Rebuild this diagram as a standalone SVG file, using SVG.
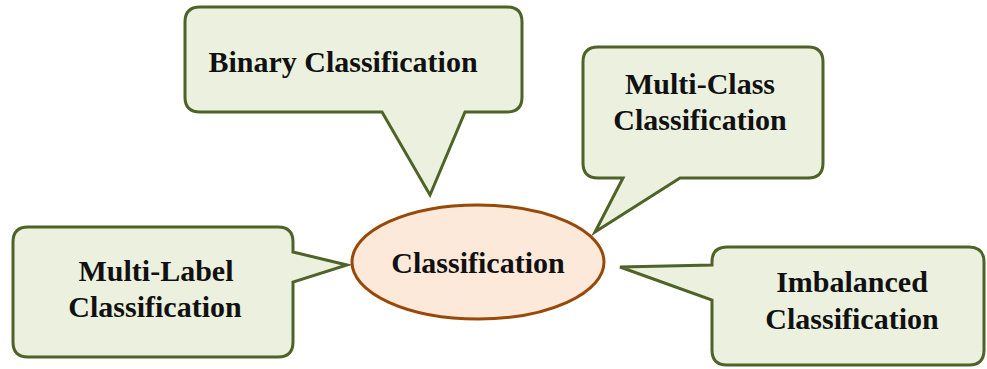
<svg xmlns="http://www.w3.org/2000/svg" width="987" height="369" viewBox="0 0 987 369">
  <style>
    .callout { fill: #EBF1DE; stroke: #4F6228; stroke-width: 3; stroke-linejoin: miter; }
    .center { fill: #FDE9D9; stroke: #984807; stroke-width: 3; }
    text { font-family: 'Liberation Serif', 'Times New Roman', 'DejaVu Serif', serif; font-weight: 700; font-size: 30px; fill: #111111; text-anchor: middle; }
  </style>
  <rect width="987" height="369" fill="#ffffff"/>

  <!-- callout tails act as the links; no separate lines are drawn -->
  <g id="connectors"></g>

  <g id="binary">
    <path class="callout" d="M200,7 H507 Q522,7 522,22 V97 Q522,112 507,112 H465 L430,195 L382,112 H200 Q185,112 185,97 V22 Q185,7 200,7 Z"/>
    <text x="343" y="72">Binary Classification</text>
  </g>

  <g id="multi-class">
    <path class="callout" d="M598,47 H808 Q823,47 823,62 V163 Q823,178 808,178 H680 L595,232 L623,178 H598 Q583,178 583,163 V62 Q583,47 598,47 Z"/>
    <text x="700" y="94">Multi-Class</text>
    <text x="700" y="130">Classification</text>
  </g>

  <g id="multi-label">
    <path class="callout" d="M28,227 H278 Q293,227 293,242 V252 L347,265 L293,282 V342 Q293,357 278,357 H28 Q13,357 13,342 V242 Q13,227 28,227 Z"/>
    <text x="156" y="281">Multi-Label</text>
    <text x="155" y="317">Classification</text>
  </g>

  <g id="classification">
    <ellipse class="center" cx="478" cy="262" rx="126" ry="57"/>
    <text x="478" y="273">Classification</text>
  </g>

  <g id="imbalanced">
    <path class="callout" d="M727,247 H969 Q984,247 984,262 V350 Q984,365 969,365 H727 Q712,365 712,350 V300 L620,267 L712,265 V262 Q712,247 727,247 Z"/>
    <text x="852" y="292">Imbalanced</text>
    <text x="852" y="329">Classification</text>
  </g>
</svg>
